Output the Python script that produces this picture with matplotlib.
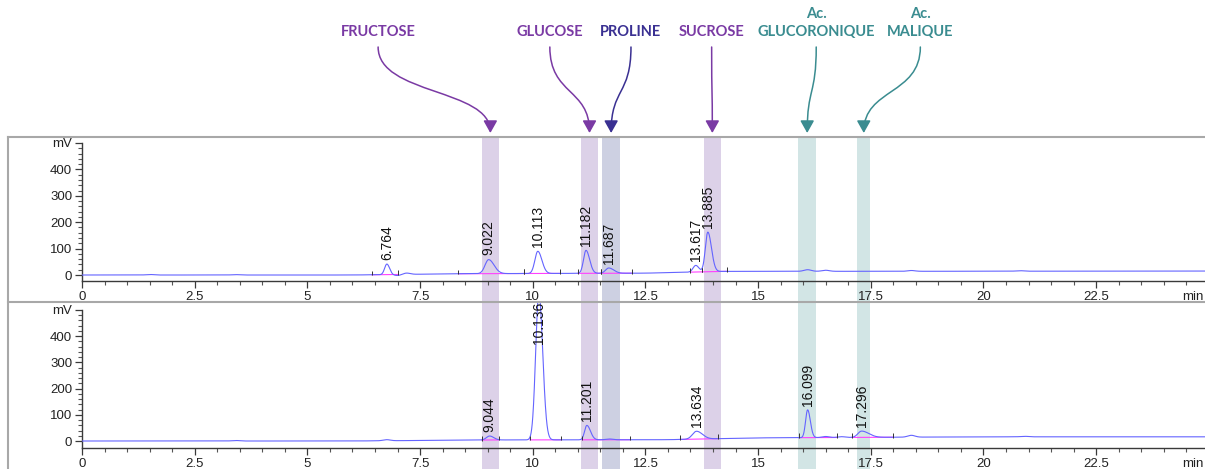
# Chromatogram comparison: two HPLC runs with identified compounds highlighted

# =============================================================================
# Import libraries
# =============================================================================

import numpy as np
import matplotlib.pyplot as plt
import matplotlib.transforms as mtransforms
from matplotlib.patches import Rectangle, FancyArrowPatch
from matplotlib.path import Path
from matplotlib.lines import Line2D
from matplotlib.ticker import MultipleLocator, FixedLocator, FuncFormatter

# =============================================================================
# Data
# =============================================================================

# identified compounds and retention window (min)
compounds = ['FRUCTOSE', 'GLUCOSE', 'PROLINE', 'SUCROSE',
             'Ac.\nGLUCORONIQUE', 'Ac.\nMALIQUE']
band_start = [8.87, 11.07, 11.54, 13.80, 15.89, 17.20]
band_end = [9.25, 11.45, 11.94, 14.17, 16.29, 17.49]
compound_kind = ['sugar', 'sugar', 'amino', 'sugar', 'acid', 'acid']

# top chromatogram: labelled peaks (rt, height above baseline, left/right width)
top_rt = [6.764, 9.022, 10.113, 11.182, 11.687, 13.617, 13.885]
top_h = [40, 53, 84, 87, 20, 25, 150]
top_sl = [0.05, 0.08, 0.065, 0.055, 0.07, 0.06, 0.055]
top_sr = [0.06, 0.12, 0.09, 0.08, 0.11, 0.07, 0.08]
# small unlabelled bumps
top_minor_rt = [1.5, 3.4, 7.0, 7.2, 16.1, 16.5, 18.4, 20.8]
top_minor_h = [2, 1.5, -4, 5, 6, 4, 3, 2]
# baseline drift
top_base_t = [0, 6, 8.5, 12.5, 14.3, 18, 25]
top_base_v = [0, 0, 5, 7, 14, 14, 15]
# integration windows
top_win = [(6.43, 7.0), (8.35, 9.8), (9.8, 10.6), (11.0, 11.52),
           (11.52, 12.2), (13.5, 13.76), (13.76, 14.3)]

# bottom chromatogram
bot_rt = [9.044, 10.136, 11.201, 13.634, 16.099, 17.296]
bot_h = [15, 560, 55, 30, 106, 24]
bot_sl = [0.07, 0.07, 0.05, 0.09, 0.045, 0.08]
bot_sr = [0.09, 0.085, 0.08, 0.13, 0.06, 0.16]
bot_minor_rt = [3.4, 6.76, 11.7, 16.5, 16.85, 18.4, 20.9]
bot_minor_h = [2, 4, 3, 4, 3, 7, 2]
bot_base_t = [0, 6, 9, 13, 15, 20, 25]
bot_base_v = [0, 0, 4, 5, 12, 16, 16]
bot_win = [(8.87, 9.25), (9.94, 10.63), (11.1, 12.16), (13.27, 14.1),
           (15.9, 16.75), (17.08, 18.0)]

# =============================================================================
# Helpers
# =============================================================================

W, H = 1205, 469
t = np.linspace(0, 25, 6000)


def fy(py):
    # pixel row (from top) -> figure fraction
    return 1 - py / H


def build_trace(rt, h, sl, sr, mrt, mh, bt, bv):
    y = np.interp(t, bt, bv)
    for r, a, s1, s2 in zip(rt, h, sl, sr):
        s = np.where(t < r, s1, s2)
        y = y + a * np.exp(-0.5 * ((t - r) / s) ** 2)
    for r, a in zip(mrt, mh):
        y = y + a * np.exp(-0.5 * ((t - r) / 0.08) ** 2)
    return y


def style_axis(ax, ylim):
    ax.set_xlim(0, 25)
    ax.set_ylim(*ylim)
    ax.patch.set_visible(False)
    for s in ['top', 'right']:
        ax.spines[s].set_visible(False)
    for s in ['left', 'bottom']:
        ax.spines[s].set_color('#3a3a3a')
        ax.spines[s].set_linewidth(1.0)
    ax.spines['left'].set_bounds(ylim[0], 500)
    ax.xaxis.set_major_locator(MultipleLocator(2.5))
    ax.xaxis.set_minor_locator(MultipleLocator(0.5))
    ax.xaxis.set_major_formatter(
        FuncFormatter(lambda v, p: '' if v > 24.9 else '%g' % v))
    ax.yaxis.set_major_locator(FixedLocator([0, 100, 200, 300, 400, 500]))
    ax.yaxis.set_minor_locator(FixedLocator(np.arange(20, 500, 20)))
    ax.yaxis.set_major_formatter(
        FuncFormatter(lambda v, p: 'mV' if v > 499 else '%d' % v))
    ax.tick_params(which='major', direction='out', length=5, width=0.9,
                   colors='#3a3a3a', labelcolor='#222222', labelsize=9.5, pad=2)
    ax.tick_params(which='minor', direction='out', length=3, width=0.8,
                   colors='#555555')
    for lab in ax.get_xticklabels() + ax.get_yticklabels():
        lab.set_fontfamily('Liberation Sans')
    ax.annotate('min', (25, 0), xycoords=ax.get_xaxis_transform(),
                xytext=(-4, -7), textcoords='offset points',
                ha='right', va='top', fontsize=9.5, family='Liberation Sans',
                color='#222222')


def draw_run(ax, y, rt, bt, bv, wins):
    ax.plot(t, y, color='#6464ff', linewidth=0.8, zorder=3)
    for a, b in wins:
        ya, yb = np.interp([a, b], bt, bv)
        ax.plot([a, b], [ya, yb], color='#ff40ff', linewidth=0.8, zorder=2)
        ax.vlines([a, b], [ya - 2, yb - 2], [ya + 16, yb + 16],
                  color='#333333', linewidth=0.7, zorder=4)
    top = ax.get_ylim()[1]
    for r in rt:
        apex = np.interp(r, t, y)
        if apex > 400:
            ax.text(r, top, '%.3f' % r, rotation=90, ha='center', va='top',
                    fontsize=10, family='Liberation Sans', color='#111111',
                    zorder=5)
        else:
            ax.annotate('%.3f' % r, (r, apex), xytext=(0, 3),
                        textcoords='offset points', rotation=90,
                        ha='center', va='bottom', fontsize=10,
                        family='Liberation Sans', color='#111111', zorder=5)


# =============================================================================
# Figure
# =============================================================================

fig = plt.figure(figsize=(W / 100, H / 100), dpi=100)

x0 = 82 / W
xw = (1208.8 - 82) / W
ax_top = fig.add_axes([x0, fy(281), xw, (281 - 137) / H])
ax_bot = fig.add_axes([x0, fy(448), xw, (448 - 302) / H])

style_axis(ax_top, (-22.7, 522.7))
style_axis(ax_bot, (-26.7, 530.5))

y_top = build_trace(top_rt, top_h, top_sl, top_sr, top_minor_rt, top_minor_h,
                    top_base_t, top_base_v)
y_bot = build_trace(bot_rt, bot_h, bot_sl, bot_sr, bot_minor_rt, bot_minor_h,
                    bot_base_t, bot_base_v)
draw_run(ax_top, y_top, top_rt, top_base_t, top_base_v, top_win)
draw_run(ax_bot, y_bot, bot_rt, bot_base_t, bot_base_v, bot_win)

# outer frame
frame_c = '#a8a8a8'
fig.add_artist(Line2D([8 / W, 1], [fy(137), fy(137)], transform=fig.transFigure,
                      color=frame_c, linewidth=1.5))
fig.add_artist(Line2D([8 / W, 8 / W], [fy(137), 0], transform=fig.transFigure,
                      color=frame_c, linewidth=1.5))
fig.add_artist(Line2D([8 / W, 1], [fy(302), fy(302)], transform=fig.transFigure,
                      color=frame_c, linewidth=1.5))

# =============================================================================
# Compound bands and labels
# =============================================================================

band_colors = {'sugar': '#dcd1e8', 'amino': '#cdd0e2', 'acid': '#d2e5e5'}
text_colors = {'sugar': '#7a3aa4', 'amino': '#3a3092', 'acid': '#3a8c90'}

blend = mtransforms.blended_transform_factory(ax_top.transData, fig.transFigure)

label_x = [6.57, 10.38, 12.18, 13.97, 16.29, 18.6]
y_start, y_tip = fy(47), fy(133)
dy = y_start - y_tip

for name, a, b, kind, lx in zip(compounds, band_start, band_end,
                                compound_kind, label_x):
    fig.add_artist(Rectangle((a, 0), b - a, fy(138), transform=blend,
                             facecolor=band_colors[kind], edgecolor='none',
                             zorder=-1))
    lines = name.split('\n')
    for k, line in enumerate(reversed(lines)):
        fig.text(lx, fy(31.7 - 18 * k), line, transform=blend, ha='center',
                 va='center', fontsize=10.5, family='Lato', weight='bold',
                 color=text_colors[kind])
    cx = (a + b) / 2
    verts = [(lx, y_start), (lx, y_start - 0.56 * dy),
             (cx, y_tip + 0.52 * dy), (cx, y_tip)]
    path = Path(verts, [Path.MOVETO, Path.CURVE4, Path.CURVE4, Path.CURVE4])
    arrow = FancyArrowPatch(path=path, transform=blend,
                            arrowstyle='-|>,head_length=0.75,head_width=0.42',
                            mutation_scale=10, color=text_colors[kind],
                            linewidth=1.1)
    fig.add_artist(arrow)

fig.savefig('out.png', dpi=100)
